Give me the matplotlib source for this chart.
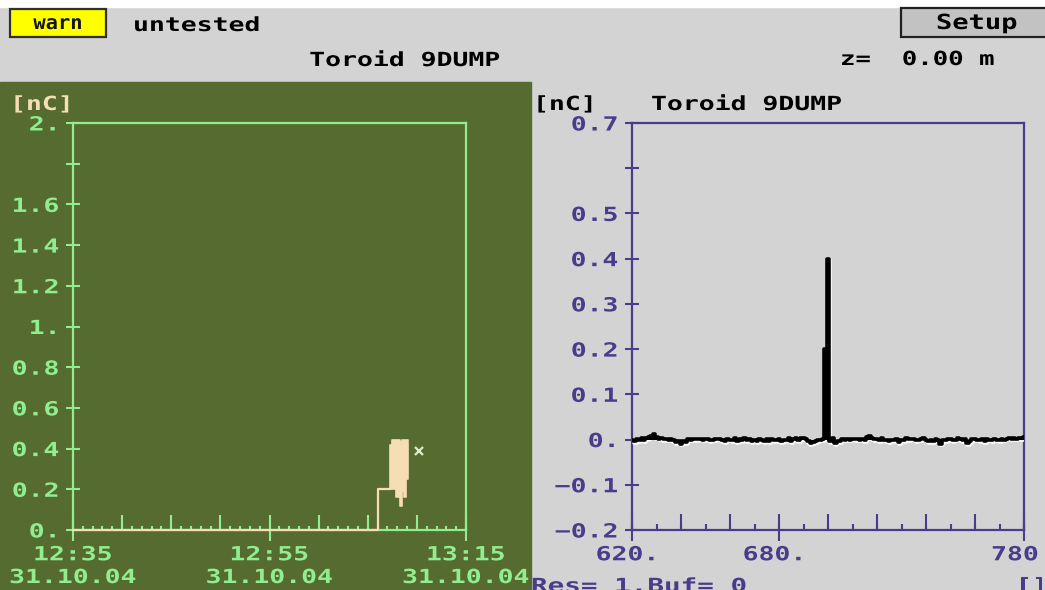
import numpy as np
import matplotlib
matplotlib.use("Agg")
import matplotlib.pyplot as plt
from matplotlib.patches import Rectangle
from matplotlib.transforms import Affine2D
from matplotlib.patheffects import AbstractPathEffect, SimpleLineShadow, Normal

# ---------------------------------------------------------------- data
# Trend panel: charge history, time in minutes after 12:35 (31.10.04)
trend_t = [0.0, 31.0, 31.0, 32.25]
trend_q = [0.0, 0.0, 0.2, 0.2]
burst_t = [32.25, 32.45, 32.65, 32.85, 33.05, 33.25, 33.45, 33.65, 33.85, 34.05]
burst_hi = [0.42, 0.44, 0.44, 0.44, 0.44, 0.43, 0.44, 0.44, 0.44, 0.44]
burst_lo = [0.20, 0.20, 0.20, 0.16, 0.16, 0.12, 0.19, 0.16, 0.25, 0.25]
cursor_t = 35.2
cursor_q = 0.39
trend_yticks = [0.0, 0.2, 0.4, 0.6, 0.8, 1.0, 1.2, 1.4, 1.6, 1.8, 2.0]
trend_ylabels = ["0.", "0.2", "0.4", "0.6", "0.8", "1.", "1.2", "1.4", "1.6", "", "2."]
trend_xticks = [0, 20, 40]
trend_xlabels = ["12:35\n31.10.04", "12:55\n31.10.04", "13:15\n31.10.04"]

# Waveform panel: toroid signal per sample, samples 620..780
wave_start = 620
wave_q = [
    0.000, -0.003, 0.002, -0.002, 0.003, -0.001, 0.004, 0.006, 0.008, 0.012,
    0.006, 0.002, 0.003, 0.001, 0.002, 0.000, 0.001, -0.002, -0.006, -0.004,
    -0.009, -0.003, -0.005, 0.001, 0.000, 0.002, 0.001, 0.001, 0.002, 0.000,
    0.001, 0.001, -0.002, 0.000, 0.001, 0.002, 0.001, -0.001, -0.004, 0.001,
    0.000, -0.002, 0.003, -0.003, 0.001, -0.002, 0.004, -0.001, 0.002, -0.004,
    0.000, -0.003, 0.002, -0.002, -0.004, 0.001, -0.003, 0.002, -0.002, -0.001,
    0.002, -0.004, 0.000, -0.002, 0.003, -0.003, 0.001, 0.003, -0.001, 0.004,
    0.003, 0.001, -0.004, -0.007, -0.006, -0.004, -0.002, 0.000, 0.001, 0.200,
    0.400, -0.003, 0.004, -0.008, -0.004, -0.003, 0.001, 0.000, 0.001, 0.000,
    0.002, 0.001, 0.001, 0.000, 0.001, -0.002, 0.005, 0.008, 0.003, 0.001,
    0.002, -0.001, 0.003, 0.000, -0.002, -0.004, 0.000, -0.002, 0.002, -0.006,
    0.000, -0.002, 0.003, 0.001, 0.002, 0.002, -0.001, 0.000, 0.001, 0.003,
    0.000, -0.003, -0.001, -0.004, 0.001, -0.002, -0.009, 0.000, -0.001, 0.002,
    0.001, -0.002, 0.000, 0.003, 0.001, -0.001, 0.002, -0.007, -0.004, 0.001,
    0.002, 0.000, -0.002, 0.001, -0.003, 0.002, 0.000, -0.001, 0.001, 0.000,
    -0.002, 0.001, 0.000, 0.002, 0.003, 0.002, 0.003, 0.002, 0.004, 0.004, 0.005,
]
wave_yticks = [-0.2, -0.1, 0.0, 0.1, 0.2, 0.3, 0.4, 0.5, 0.6, 0.7]
wave_ylabels = ["\u22120.2", "\u22120.1", "0.", "0.1", "0.2", "0.3", "0.4", "0.5", "", "0.7"]
wave_xticks = [620, 680, 780]
wave_xlabels = ["620.", "680.", "780"]

# ---------------------------------------------------------------- style
W, H = 1045, 590
GREY = "#d3d3d3"
GREEN = "#566b2f"
LGREEN = "#90ee90"
WHEAT = "#f5deb3"
SLATE = "#483d8b"
SX = 1.36  # horizontal stretch of the wide terminal font

plt.rcParams["font.family"] = ["DejaVu Sans Mono"]
plt.rcParams["font.weight"] = "bold"


class HStretch(AbstractPathEffect):
    """Widen glyph outlines horizontally around a chosen anchor."""

    def __init__(self, sx, anchor="center", dx=0.0):
        super().__init__()
        self._sx = sx
        self._anchor = anchor
        self._dx = dx

    def draw_path(self, renderer, gc, tpath, affine, rgbFace=None):
        ext = tpath.get_extents()
        if self._anchor == "left":
            x0 = 0.0
        elif self._anchor == "right":
            x0 = ext.x1
        else:
            x0 = 0.5 * (ext.x0 + ext.x1)
        pre = Affine2D().translate(-x0, 0).scale(self._sx, 1.0).translate(x0, 0)
        post = Affine2D().translate(self._dx, 0)
        renderer.draw_path(gc, tpath, pre + affine + post, rgbFace)


def fx(x):
    return x / W


def fy(y):
    return 1 - y / H


def label(x, y, s, ha="left", size=14, color="black", sx=SX):
    fig.text(fx(x), fy(y), s, ha=ha, va="baseline", fontsize=size,
             color=color, path_effects=[HStretch(sx, ha)])


fig = plt.figure(figsize=(W / 100, H / 100), dpi=100, facecolor=GREY)

# panel backgrounds
fig.add_artist(Rectangle((0, fy(590)), 531 / W, (590 - 82) / H,
                         transform=fig.transFigure, color=GREEN, zorder=0))
fig.add_artist(Rectangle((0, fy(7)), 1, 7 / H, transform=fig.transFigure,
                         color="white", zorder=0))

# header widgets
fig.add_artist(Rectangle((fx(10), fy(37)), 96 / W, 28 / H, transform=fig.transFigure,
                         facecolor="#ffff00", edgecolor="#303030", lw=1.6, zorder=1))
label(58, 29, "warn", ha="center", size=14, color="#151515", sx=1.05)
label(133, 31, "untested", size=14)
label(405, 66, "Toroid 9DUMP", ha="center", size=14)
fig.add_artist(Rectangle((fx(901), fy(37)), 150 / W, 29 / H, transform=fig.transFigure,
                         facecolor="#c2c2c2", edgecolor="#202020", lw=1.6, zorder=1))
label(977, 29, "Setup", ha="center", size=15, sx=1.3)
label(840, 65, "z=  0.00 m", size=14, sx=1.32)
label(10, 110, "[nC]", size=14, color=WHEAT)
label(533, 110, "[nC]", size=14)
label(651, 110, "Toroid 9DUMP", size=14)
label(531, 592, "Res= 1.Buf= 0", size=14, color=SLATE, sx=1.42)
label(1016, 592, "[]", size=14, color=SLATE)


def style_axes(ax, col, minor_step, fine_step, major_in, fine_in, xshift):
    ax.set_facecolor("none")
    for sp in ax.spines.values():
        sp.set_color(col)
        sp.set_linewidth(1.6)
    ax.tick_params(axis="y", direction="inout", length=10, width=1.5,
                   color=col, pad=5, labelsize=14)
    ax.tick_params(axis="x", which="major", direction="out", length=8,
                   width=1.5, color=col, pad=3, labelsize=14)
    ax.tick_params(axis="x", which="minor", direction="in", length=major_in,
                   width=1.5, color=col)
    ax.xaxis.remove_overlapping_locs = False
    lo, hi = ax.get_xlim()
    ax.set_xticks(np.arange(lo, hi + 0.5 * minor_step, minor_step), minor=True)
    fine = ax.secondary_xaxis("bottom")
    fine.set_xticks(np.arange(lo, hi + 0.5 * fine_step, fine_step))
    fine.tick_params(direction="in", length=fine_in, width=1.5, color=col,
                     labelbottom=False)
    fine.spines["bottom"].set_visible(False)
    for lab in ax.get_yticklabels():
        lab.set_path_effects([HStretch(SX, "right")])
    for lab, dx in zip(ax.get_xticklabels(), xshift):
        lab.set_path_effects([HStretch(SX, "center", dx)])


# ---------------------------------------------------------------- trend panel
axL = fig.add_axes([fx(73), fy(530), (466 - 73) / W, (530 - 123) / H])
axL.set_xlim(0, 40)
axL.set_ylim(0, 2)
axL.set_yticks(trend_yticks, trend_ylabels)
axL.set_xticks(trend_xticks, trend_xlabels)
for lab in axL.get_xticklabels():
    lab.set_linespacing(1.25)
style_axes(axL, LGREEN, 5, 1, 11, 3, [0, 0, 0])
axL.tick_params(labelcolor=LGREEN)

axL.plot(trend_t, trend_q, color=WHEAT, lw=1.6, zorder=3, clip_on=False)
axL.fill_between(burst_t, burst_lo, burst_hi, step="post", color=WHEAT,
                 lw=1.2, edgecolor=WHEAT, zorder=3)
axL.plot([cursor_t], [cursor_q], marker="x", ms=6, mew=1.6, color="#d8f0cc",
         zorder=3)

# ---------------------------------------------------------------- waveform panel
axR = fig.add_axes([fx(632), fy(530), (1024 - 632) / W, (530 - 123) / H])
axR.set_xlim(620, 780)
axR.set_ylim(-0.2, 0.7)
axR.set_yticks(wave_yticks, wave_ylabels)
axR.set_xticks(wave_xticks, wave_xlabels)
style_axes(axR, SLATE, 20, 10, 11.5, 4.3, [-5, -5, -9])
axR.tick_params(labelcolor=SLATE)

wave_x = wave_start + np.arange(len(wave_q))
axR.plot(wave_x, wave_q, drawstyle="steps-mid", color="black", lw=2.6,
         zorder=3, path_effects=[SimpleLineShadow(offset=(0.6, -1.3),
                                                  shadow_color="white", alpha=0.9),
                                 Normal()])
axR.fill_between(wave_x, 0, wave_q, step="mid", color="black", lw=0, zorder=3.1)

fig.savefig("out.png", dpi=100, facecolor=GREY)
